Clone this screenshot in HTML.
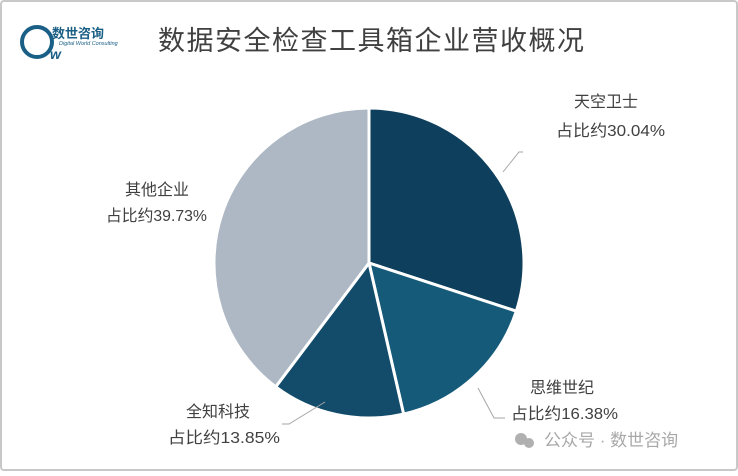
<!DOCTYPE html>
<html><head><meta charset="utf-8"><style>
body{margin:0;background:#fff;}
.f{font-family:"Liberation Sans","Noto Sans CJK SC",sans-serif;}
</style></head><body>
<svg width="738" height="471" xmlns="http://www.w3.org/2000/svg" class="f">
<rect x="1" y="1" width="736" height="469" rx="3" fill="#fff" stroke="#c8c8c8" stroke-width="2"/>
<!-- logo -->
<ellipse cx="37" cy="42" rx="15" ry="15" fill="none" stroke="#1a5f86" stroke-width="4"/>
<text x="52" y="38" font-size="13" fill="#1a5f86" font-weight="bold">数世咨询</text>
<text x="59" y="45" font-size="5.5" fill="#1a5f86" font-style="italic">Digital World Consulting</text>
<text x="50" y="59" font-size="14" fill="#1a5f86" font-weight="bold" font-style="italic">w</text>
<text x="158" y="50" font-size="27" fill="#404040" letter-spacing="1.5">数据安全检查工具箱企业营收概况</text>
<g stroke="#fff" stroke-width="3" stroke-linejoin="round">
<path d="M369,263 L369,108 A155,155 0 0 1 516.3,311.2 Z" fill="#0e3f5c"/>
<path d="M369,263 L516.3,311.2 A155,155 0 0 1 403.6,414.1 Z" fill="#155a79"/>
<path d="M369,263 L403.6,414.1 A155,155 0 0 1 275.7,386.8 Z" fill="#134c6b"/>
<path d="M369,263 L275.7,386.8 A155,155 0 0 1 369,108 Z" fill="#adb8c4"/>
</g>
<g fill="none" stroke="#a6a6a6" stroke-width="1">
<polyline points="503,172 519,152 523,152"/>
<polyline points="478,388 494,418 505,418"/>
<polyline points="325,402 289,424 282,424"/>
</g>
<g font-size="16" fill="#404040">
<text x="574" y="107">天空卫士</text>
<text x="556" y="136" textLength="109" lengthAdjust="spacingAndGlyphs">占比约30.04%</text>
<text x="125" y="195">其他企业</text>
<text x="106" y="221" textLength="101" lengthAdjust="spacingAndGlyphs">占比约39.73%</text>
<text x="530" y="393">思维世纪</text>
<text x="511" y="419" textLength="107" lengthAdjust="spacingAndGlyphs">占比约16.38%</text>
<text x="186" y="417">全知科技</text>
<text x="168" y="443" textLength="112" lengthAdjust="spacingAndGlyphs">占比约13.85%</text>
</g>
<circle cx="521" cy="439" r="6" fill="#b0b0b0"/><circle cx="529" cy="443" r="5" fill="#b0b0b0"/>
<text x="544" y="446" font-size="17" fill="#a8a8a8">公众号 · 数世咨询</text>
</svg>
</body></html>
